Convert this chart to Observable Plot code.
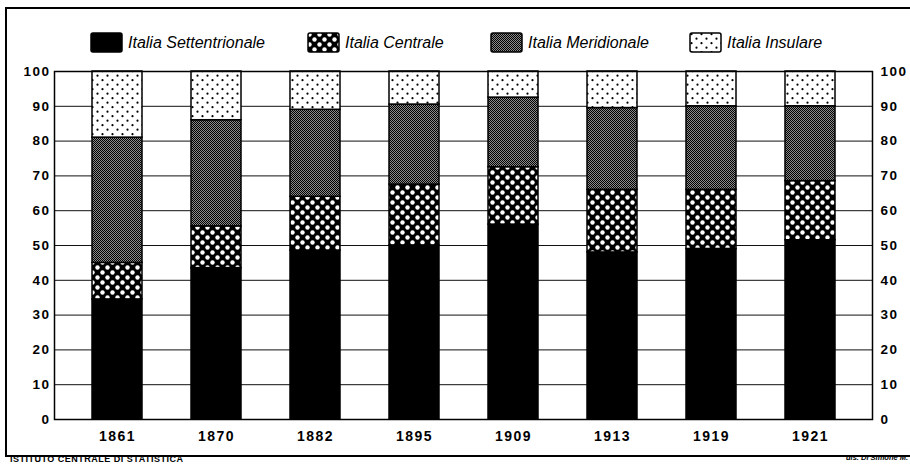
<!DOCTYPE html>
<html><head><meta charset="utf-8">
<script src="https://cdn.jsdelivr.net/npm/d3@7"></script>
<script src="https://cdn.jsdelivr.net/npm/@observablehq/plot@0.6"></script>
<style>
body{margin:0;background:#fff;width:910px;height:465px;overflow:hidden;position:relative;font-family:"Liberation Sans",Arial,sans-serif;}
#border{position:absolute;left:5px;top:7px;width:960px;height:446px;border-left:2.5px solid #000;border-top:2px solid #000;border-bottom:2.5px solid #000;}
.leg{position:absolute;top:32px;height:21px;display:flex;align-items:center;font-style:italic;font-size:16px;color:#000;white-space:nowrap;}
.leg svg{margin-right:5px;}
#chart{position:absolute;left:0;top:60px;}
#chart svg text{letter-spacing:1.5px;}
#foot{position:absolute;left:10px;top:455px;font-size:9px;line-height:9px;font-weight:bold;letter-spacing:0.5px;white-space:nowrap;}
#sig{position:absolute;left:846px;top:454px;font-size:7.5px;line-height:8px;font-style:italic;font-weight:bold;white-space:nowrap;}
</style></head>
<body>
<svg width="0" height="0" style="position:absolute">
 <defs>
  <pattern id="pCentrale" patternUnits="userSpaceOnUse" width="10" height="10">
   <rect width="10" height="10" fill="#000"/>
   <circle cx="2.5" cy="2.5" r="2.2" fill="#fff"/>
   <circle cx="7.5" cy="7.5" r="2.2" fill="#fff"/>
  </pattern>
  <pattern id="pMeridionale" patternUnits="userSpaceOnUse" width="2" height="2">
   <rect width="2" height="2" fill="#8a8a8a"/>
   <rect x="0" y="0" width="1" height="1" fill="#000"/>
   <rect x="1" y="1" width="1" height="1" fill="#000"/>
  </pattern>
  <pattern id="pInsulare" patternUnits="userSpaceOnUse" width="10" height="9">
   <rect width="10" height="9" fill="#fff"/>
   <circle cx="2.5" cy="2.2" r="1.1" fill="#000"/>
   <circle cx="7.5" cy="6.7" r="1.1" fill="#000"/>
  </pattern>
 </defs>
</svg>
<div id="border"></div>
<div id="legend"></div>
<div id="chart"></div>
<div id="foot">ISTITUTO CENTRALE DI STATISTICA</div>
<div id="sig">dis. Di Simone M.</div>
<script>
const years = ["1861","1870","1882","1895","1909","1913","1919","1921"];
const regions = ["Italia Settentrionale","Italia Centrale","Italia Meridionale","Italia Insulare"];
const settentrionale = [34.5, 43.5, 48.5, 50, 56, 48, 49, 51.5];
const centrale      = [10.5, 12, 15.5, 17.5, 16.5, 18, 17, 17];
const meridionale   = [36, 30.5, 25, 23, 20, 23.5, 24, 21.5];
const insulare      = [19, 14, 11, 9.5, 7.5, 10.5, 10, 10];
const yTicks = [0,10,20,30,40,50,60,70,80,90,100];

const fills = ["#000","url(#pCentrale)","url(#pMeridionale)","url(#pInsulare)"];
const series = [settentrionale, centrale, meridionale, insulare];
const data = [];
regions.forEach((r, k) => years.forEach((y, i) => data.push({year: y, region: r, value: series[k][i]})));

// legend
const legX = [90, 307, 490, 689];
const legend = document.getElementById("legend");
regions.forEach((r, k) => {
  const d = document.createElement("div");
  d.className = "leg";
  d.style.left = legX[k] + "px";
  d.innerHTML = `<svg width="33" height="21"><rect x="1" y="1" width="31" height="19" rx="2" fill="${fills[k]}" stroke="#000" stroke-width="1.5"/></svg><span>${r}</span>`;
  legend.appendChild(d);
});

const chart = Plot.plot({
  width: 910, height: 395,
  marginTop: 11, marginBottom: 36, marginLeft: 54, marginRight: 38,
  style: {fontFamily: "'Liberation Sans', Arial, sans-serif", fontSize: "14px", fontWeight: "bold", color: "#000", background: "transparent"},
  x: {domain: years, paddingInner: 0.5, paddingOuter: 0.36, label: null},
  y: {domain: [0, 100], label: null},
  color: {domain: regions, range: fills},
  marks: [
    Plot.ruleY(yTicks, {stroke: "#111", strokeWidth: 1}),
    Plot.barY(data, {x: "year", y: "value", fill: "region", stroke: "#000", strokeWidth: 1.5}),
    Plot.frame({stroke: "#000", strokeWidth: 1.5}),
    Plot.axisY(yTicks, {anchor: "left", tickSize: 0, tickPadding: 4, label: null, fontSize: 13.5}),
    Plot.axisY(yTicks, {anchor: "right", tickSize: 0, tickPadding: 8, label: null, fontSize: 13.5}),
    Plot.axisX({tickSize: 0, tickPadding: 12, label: null})
  ]
});
document.getElementById("chart").appendChild(chart);
</script>
</body></html>
